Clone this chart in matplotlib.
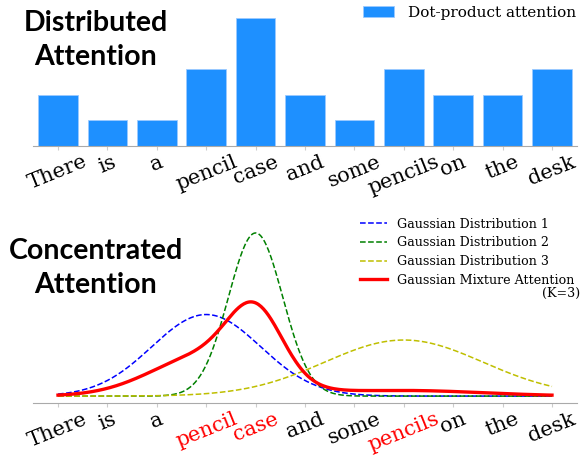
import numpy as np
import matplotlib
matplotlib.use("Agg")
import matplotlib.pyplot as plt

# --- Data ---------------------------------------------------------------------
WORDS        = ["There", "is", "a", "pencil", "case", "and", "some",
                "pencils", "on", "the", "desk"]
DOT_PRODUCT  = [2, 1, 1, 3, 5, 2, 1, 3, 2, 2, 3]
RED_WORDS    = ["pencil", "case", "pencils"]

# Gaussian components (centre in word index)
GAUSS_MU     = [3.0, 4.0, 7.0]
GAUSS_SIGMA  = [1.1, 0.55, 1.6]
GAUSS_WEIGHT = [0.5, 0.4, 0.1]
GAUSS_LABELS = ["Gaussian Distribution 1", "Gaussian Distribution 2",
                "Gaussian Distribution 3"]
GAUSS_COLORS = ["b", "g", "y"]

# --- Style --------------------------------------------------------------------
BAR_COLOR   = "#1e90ff"
SPINE_COLOR = "#aaaaaa"
TITLE_FONT  = "Lato"
TEXT_FONT   = "DejaVu Serif"

# ------------------------------------------------------------------------------

def gaussian(x, mu, sigma):
    return np.exp(-0.5 * ((x - mu) / sigma) ** 2) / (sigma * np.sqrt(2 * np.pi))


def style_axis(ax, labels, red=()):
    for side in ["left", "top", "right"]:
        ax.spines[side].set_visible(False)
    ax.spines["bottom"].set_color(SPINE_COLOR)
    ax.set_yticks([])
    ax.set_xticks(range(len(labels)))
    ax.set_xticklabels(labels, rotation=22, ha="center",
                       fontsize=15, fontfamily=TEXT_FONT)
    ax.tick_params(axis="x", color="#cccccc", length=3, pad=1.5)
    for tick in ax.get_xticklabels():
        if tick.get_text() in red:
            tick.set_color("red")
    ax.set_xlim(-0.5, len(labels) - 0.5)


fig = plt.figure(figsize=(5.82, 4.57), dpi=100)
left, width = 33.3 / 582, 543.4 / 582

# --- Top: distributed attention -----------------------------------------------
ax_top = fig.add_axes([left, 0.6805, width, 0.297])
x = np.arange(len(WORDS))
ax_top.bar(x, DOT_PRODUCT, width=0.8, color=BAR_COLOR,
           edgecolor="#9ccaff", linewidth=0.6, label="Dot-product attention")
ax_top.set_ylim(0, 5.3)
style_axis(ax_top, WORDS)
ax_top.legend(loc="upper right", bbox_to_anchor=(1.0, 1.0),
              bbox_transform=fig.transFigure, frameon=False,
              prop={"family": TEXT_FONT, "size": 11},
              handlelength=2.0, handletextpad=0.9, borderaxespad=0.0)

fig.text(96 / 582, 1 - 40 / 457, "Distributed\nAttention", ha="center",
         va="center", fontsize=20.5, fontweight="bold", fontfamily=TITLE_FONT,
         linespacing=1.35)

# --- Bottom: concentrated attention -------------------------------------------
ax_bot = fig.add_axes([left, 0.118, width, 0.409])
xs = np.linspace(0, len(WORDS) - 1, 400)
mixture = np.zeros_like(xs)
for mu, sigma, w, lab, col in zip(GAUSS_MU, GAUSS_SIGMA, GAUSS_WEIGHT,
                                  GAUSS_LABELS, GAUSS_COLORS):
    comp = gaussian(xs, mu, sigma)
    mixture += w * comp
    ax_bot.plot(xs, comp, "--", color=col, lw=1.1, label=lab)
ax_bot.plot(xs, mixture, color="red", lw=2.4, label="Gaussian Mixture Attention")
ax_bot.set_ylim(-0.031, 0.80)
style_axis(ax_bot, WORDS, red=RED_WORDS)

ax_bot.legend(loc="upper right", bbox_to_anchor=(1.0, 1 - 210 / 457),
              bbox_transform=fig.transFigure, frameon=False,
              prop={"family": TEXT_FONT, "size": 9.1},
              handlelength=2.1, handletextpad=0.8, borderaxespad=0.2,
              labelspacing=0.45)
fig.text(580 / 582, 1 - 293 / 457, "(K=3)", ha="right", va="center",
         fontsize=9.1, fontfamily=TEXT_FONT)

fig.text(96 / 582, 1 - 268 / 457, "Concentrated\nAttention", ha="center",
         va="center", fontsize=20.5, fontweight="bold", fontfamily=TITLE_FONT,
         linespacing=1.35)

fig.savefig("out.png", dpi=100)
